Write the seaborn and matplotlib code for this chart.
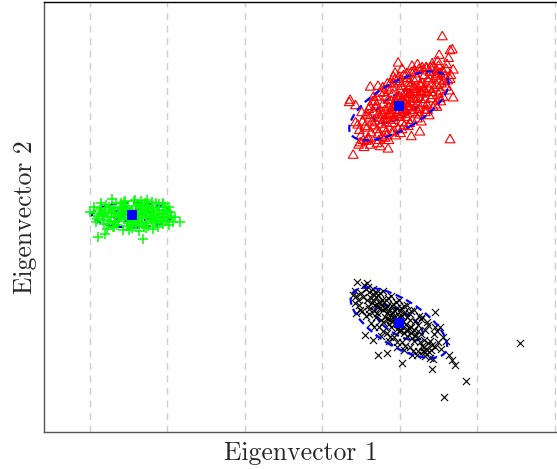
import numpy as np
import pandas as pd
import matplotlib
matplotlib.use("Agg")
import matplotlib.pyplot as plt
from matplotlib.patches import Ellipse
import seaborn as sns

# ---- projected scores of the three classes on the first two eigenvectors ----
red_x = [4.8, 5.2, 5.0, 5.5, 4.6, 5.3,
         5.8, 6.1, 6.3, 5.9, 6.4, 6.0, 6.6,
         6.8, 7.1, 7.3, 6.9, 7.4, 7.2, 7.6, 6.7, 7.0,
         7.8, 8.1, 8.3, 7.9, 8.4, 8.0, 8.6, 8.2, 8.5, 7.7,
         8.8, 9.1, 9.3, 8.9, 9.4, 9.0, 9.6, 9.2, 9.5, 8.7, 9.7, 9.1,
         9.8, 10.1, 10.3, 9.9, 10.4, 10.0, 10.6, 10.2, 10.5, 9.8, 10.7, 10.1, 10.3,
         10.8, 11.1, 11.3, 10.9, 11.4, 11.0, 11.6, 11.2, 11.5, 11.7, 10.9, 11.3,
         11.8, 12.1, 12.3, 11.9, 12.4, 12.0, 12.6, 12.2, 12.5, 12.7,
         12.8, 13.1, 13.3, 12.9, 13.4, 13.0, 13.6, 13.2, 13.5,
         13.8, 14.1, 14.3, 13.9, 14.4, 14.0, 14.6, 14.2,
         14.8, 15.1, 15.3, 14.9, 15.4, 15.0,
         15.7, 16.0, 15.8, 16.2,
         15.5, 16.8, 16.5, 15.1, 16.9, 9.8, 9.4, 11.6, 12.3, 10.3, 13.4, 14.3,
         15.2, 16.5, 16.9, 6.2, 7.2, 9.2, 8.5, 3.6, 3.5, 4.3, 15.6, 16.5, 12.6,
         11.5, 4.0, 8.5, 7.5, 4.9, 5.9, 4.3, 13.3, 14.8, 6.6,
         5.1, 4.7, 5.6, 5.4,
         6.2, 5.7, 6.5, 6.2, 6.0,
         7.0, 7.3, 6.8, 7.5, 7.1, 7.7,
         8.0, 8.3, 7.8, 8.6, 8.2, 8.4, 8.1,
         9.0, 9.3, 8.8, 9.5, 9.2, 9.4, 9.0, 9.8,
         10.0, 10.3, 9.9, 10.6, 10.2, 10.5, 10.1, 10.7,
         11.0, 11.3, 10.9, 11.6, 11.2, 11.5, 11.1, 11.8,
         12.0, 12.3, 11.9, 12.6, 12.2, 12.5, 12.8, 12.4,
         13.0, 13.3, 12.9, 13.6, 13.2, 13.5, 13.8,
         14.0, 14.3, 13.9, 14.6, 14.2, 14.8,
         15.0, 15.3, 14.9, 15.6, 15.2,
         16.1, 16.4, 16.0, 16.6, 16.3,
         9.6, 10.4, 9.4, 10.8, 8.9, 11.2, 8.4, 12.0, 7.9, 12.8, 10.0, 11.0, 9.0, 10.6]
red_y = [10.9, 12.0, 10.2, 11.4, 11.6, 9.6,
         11.2, 12.5, 10.6, 12.9, 11.9, 9.9, 13.3,
         12.1, 11.0, 13.0, 13.8, 12.5, 10.4, 11.7, 11.5, 14.2,
         12.8, 13.5, 11.9, 14.3, 12.4, 11.2, 13.9, 10.6, 14.8, 13.2,
         13.1, 14.0, 12.6, 14.7, 13.5, 11.8, 15.1, 12.2, 14.3, 12.8, 13.0, 15.6,
         13.9, 14.6, 13.2, 15.3, 14.0, 12.6, 15.7, 12.9, 13.6, 14.9, 14.4, 16.0, 11.9,
         14.3, 15.2, 13.8, 15.8, 14.6, 13.0, 16.2, 14.0, 15.5, 13.5, 12.6, 16.6,
         15.0, 15.8, 14.4, 16.4, 15.2, 13.9, 16.8, 14.9, 13.6, 15.9,
         15.6, 16.3, 14.9, 17.0, 15.8, 14.4, 17.4, 16.0, 14.2,
         16.2, 16.9, 15.4, 17.6, 16.4, 15.0, 17.9, 15.8,
         16.7, 17.4, 16.0, 18.1, 16.9, 15.6,
         17.2, 16.5, 17.9, 17.3,
         23.0, 21.3, 21.2, 20.6, 18.7, 19.6, 18.3, 19.2, 19.4, 18.8, 19.0, 19.1,
         18.3, 17.5, 15.1, 16.5, 16.6, 17.8, 16.1, 14.8, 14.5, 14.1, 15.2, 9.7, 10.7,
         10.1, 7.7, 8.5, 8.8, 9.3, 9.7, 11.9, 13.5, 13.9, 15.2,
         13.2, 9.0, 12.8, 8.7,
         14.0, 9.5, 14.6, 9.0, 13.6,
         15.2, 9.6, 14.6, 15.7, 9.2, 10.0,
         15.8, 10.2, 16.4, 9.6, 15.2, 16.9, 9.9,
         16.4, 10.8, 17.0, 10.2, 16.9, 17.5, 10.6, 11.1,
         17.2, 11.0, 17.8, 11.5, 16.6, 18.0, 10.5, 17.0,
         17.6, 11.8, 18.2, 12.2, 17.0, 18.4, 11.4, 17.4,
         18.2, 12.4, 18.6, 12.9, 17.6, 18.8, 12.0, 13.2,
         18.6, 13.2, 19.0, 13.5, 18.0, 18.9, 12.8,
         19.0, 13.9, 18.4, 14.2, 19.5, 18.6,
         19.2, 14.6, 19.8, 18.5, 15.0,
         19.4, 16.0, 18.8, 18.0, 20.2,
         14.6, 14.8, 13.9, 15.0, 13.5, 15.6, 12.9, 16.2, 12.2, 16.6, 13.5, 14.0, 12.9, 13.3]

black_x = [4.2, 4.6, 5.0, 4.8, 5.3, 4.4,
           5.8, 6.1, 6.3, 5.9, 6.4, 6.0, 6.6, 5.7,
           6.8, 7.1, 7.3, 6.9, 7.4, 7.0, 7.6, 7.2, 6.7,
           7.8, 8.1, 8.3, 7.9, 8.4, 8.0, 8.6, 8.2, 8.5, 7.7,
           8.8, 9.1, 9.3, 8.9, 9.4, 9.0, 9.6, 9.2, 9.5, 8.7, 9.7,
           9.8, 10.1, 10.3, 9.9, 10.4, 10.0, 10.6, 10.2, 10.5, 9.8,
           10.8, 11.1, 11.3, 10.9, 11.4, 11.0, 11.6, 11.2,
           11.8, 12.1, 12.3, 11.9, 12.4, 12.0, 12.6,
           12.8, 13.1, 13.3, 12.9, 13.4, 13.0, 13.6, 13.2, 13.8,
           13.9, 14.2, 14.4, 14.0, 14.6,
           15.0, 15.3, 15.6,
           25.5, 18.5, 15.7, 17.2, 16.8, 16.3, 16.0, 14.2, 10.3, 7.2, 8.4, 5.5,
           6.6, 14.6, 5.8, 4.0, 4.3, 13.3, 15.2, 11.6,
           4.5, 4.9, 4.2,
           5.4, 5.6, 5.2, 5.9,
           6.5, 6.3, 6.7, 6.1, 6.9,
           7.5, 7.3, 7.8, 7.2, 7.9, 7.6,
           8.5, 8.3, 8.7, 8.2, 8.9, 8.6,
           9.5, 9.3, 9.7, 9.2, 9.9, 9.6,
           10.5, 10.3, 10.7, 10.2, 10.9, 10.6,
           11.5, 11.3, 11.7, 11.2, 11.9,
           12.5, 12.3, 12.7, 12.2, 12.9,
           13.5, 13.3, 13.7, 13.9,
           14.5, 14.8, 14.3,
           9.6, 10.2, 9.2, 10.8, 8.6, 11.4, 8.0, 12.0, 7.4, 6.5, 9.9, 10.0]
black_y = [-9.8, -10.9, -10.1, -11.6, -10.6, -10.4,
           -11.0, -12.1, -10.7, -11.8, -11.4, -12.8, -10.2, -9.6,
           -11.6, -12.6, -11.2, -13.2, -12.0, -10.6, -13.5, -11.9, -12.4,
           -12.3, -13.1, -11.8, -13.8, -12.6, -11.2, -14.1, -12.0, -13.4, -10.9,
           -12.9, -13.7, -12.3, -14.4, -13.2, -11.8, -14.7, -12.7, -13.9, -13.5, -12.0,
           -13.6, -14.3, -13.0, -15.0, -13.8, -12.4, -15.2, -14.8, -12.7, -14.1,
           -14.1, -14.9, -13.6, -15.6, -14.4, -13.1, -15.9, -14.6,
           -14.8, -15.5, -14.2, -16.2, -15.0, -13.7, -16.4,
           -15.4, -16.1, -14.8, -16.9, -17.3, -17.6, -16.5, -17.0, -17.7,
           -16.2, -16.8, -15.3, -17.4, -17.0,
           -16.4, -17.3, -15.8,
           -16.5, -21.4, -23.5, -19.4, -18.7, -18.1, -16.3, -19.9, -19.1, -18.1, -17.8, -15.5,
           -16.1, -12.5, -8.8, -10.3, -12.6, -17.7, -14.5, -18.1,
           -8.6, -12.2, -11.3,
           -9.0, -13.0, -12.4, -9.3,
           -9.6, -13.9, -14.4, -9.9, -10.0,
           -10.1, -14.5, -15.0, -10.3, -9.8, -15.6,
           -10.7, -15.2, -15.8, -10.9, -10.4, -16.3,
           -11.2, -15.8, -16.4, -11.5, -11.0, -17.0,
           -11.8, -16.4, -16.9, -12.0, -11.6, -17.4,
           -12.4, -17.0, -17.5, -12.7, -12.2,
           -13.0, -17.6, -13.4, -18.0, -13.1,
           -13.8, -18.2, -14.2, -18.4,
           -14.5, -15.0, -18.6,
           -13.4, -14.2, -13.1, -14.8, -12.4, -15.2, -12.0, -15.6, -11.4, -11.0, -13.0, -14.9]

green_x = [-29.5, -29.0, -28.6, -28.2, -28.4, -27.9, -27.6, -27.3, -27.0, -26.8,
           -26.6, -26.3, -26.1, -25.9, -25.7, -25.5, -25.3, -25.1, -24.9, -24.7,
           -24.5, -24.3, -24.1, -23.9, -23.7, -23.5, -23.3, -23.1, -22.9, -22.7,
           -22.5, -22.3, -22.1, -21.9, -21.7, -21.5, -21.3, -21.1, -20.9, -20.7,
           -20.5, -20.2, -19.9, -19.6, -19.3,
           -26.0, -25.0, -24.0, -23.0, -25.6, -24.6, -23.6, -22.6, -26.5, -27.4,
           -21.8, -24.2, -25.2, -23.2, -28.8, -20.4,
           -28.9, -28.0, -24.1, -23.1, -19.0, -18.3, -29.9, -27.1, -20.6,
           -28.7, -28.3, -28.0, -27.7, -27.5, -27.2, -26.9, -26.7, -26.4, -26.2,
           -25.8, -25.6, -25.4, -25.2, -25.0, -24.8, -24.6, -24.4, -24.2, -24.0,
           -23.8, -23.6, -23.4, -23.2, -23.0, -22.8, -22.6, -22.4, -22.2, -22.0,
           -21.8, -21.6, -21.4, -21.2, -21.0, -20.8, -20.6, -20.3, -20.0, -19.8,
           -19.5, -29.2, -29.4, -28.5, -27.8, -26.9, -26.0, -25.4, -24.9, -24.0,
           -23.4, -22.8, -22.0, -21.2, -20.5, -19.8, -26.4, -25.7, -24.7, -23.8,
           -22.9, -21.9, -27.1, -28.1, -20.1]
green_y = [0.3, -0.5, 0.9, -1.1, 0.1, 1.3, -0.3, 0.6, -1.5, 0.2,
           1.6, -0.8, 0.9, -0.2, -1.9, 0.5, 1.2, -0.6, 0.0, -1.3,
           0.7, 1.8, -0.4, 0.3, -2.0, 1.0, -0.9, 0.4, 1.5, -0.1,
           -1.4, 0.8, -0.5, 1.1, 0.0, -1.0, 0.5, 1.4, -0.3, 0.2,
           -1.2, 0.7, -0.4, 0.4, -0.9,
           0.4, -1.0, 1.2, -1.6, 1.7, -1.7, 0.0, 1.9, -1.3, -0.7,
           -1.8, -0.9, 0.6, 1.3, -0.1, 1.0,
           -2.8, -2.5, 1.9, -3.1, -0.3, -0.9, 0.4, 2.1, 1.4,
           0.6, -0.6, 0.4, -1.2, 1.0, -0.2, 0.9, -0.9, 0.3, -0.4,
           1.1, -0.5, 0.0, -1.4, 0.9, -0.3, 0.5, -0.8, 0.2, -0.2,
           1.4, -1.1, 0.6, -0.4, 0.1, -1.0, 0.5, 1.2, -0.2, 0.3,
           0.9, -0.7, 1.6, -0.4, 0.7, -0.8, 0.1, -0.3, 0.5, 1.1,
           -0.1, -0.9, 1.0, 1.5, -1.8, -1.6, 1.5, 1.8, -1.9, -1.4,
           1.8, -1.7, 1.7, -1.5, 1.5, -1.3, -0.1, 0.3, 0.2, -0.6,
           0.7, -0.6, 0.3, 0.0, -0.7]

# class means
centroid_x = [-24.5, 9.9, 9.9]
centroid_y = [0.0, 14.1, -13.9]

# confidence ellipses: semi-axes and orientation (degrees) of the outer contour
ellipse_a = [5.2, 7.2, 7.1]
ellipse_b = [1.6, 3.0, 3.0]
ellipse_angle = [0.0, 30.0, -32.0]
outer_on_top = [False, True, True]

grid_ticks = [-30, -20, -10, 0, 10, 20, 30]

sns.set_theme(style="white")
plt.rcParams["font.family"] = ["cmr10", "DejaVu Serif"]
plt.rcParams["mathtext.fontset"] = "cm"
plt.rcParams["axes.formatter.use_mathtext"] = True

fig = plt.figure(figsize=(5.57, 4.69), dpi=100)
ax = fig.add_axes([0.079, 0.079, 0.921, 0.9165])

for cx, cy, a, b, ang, top in zip(centroid_x, centroid_y, ellipse_a, ellipse_b,
                                  ellipse_angle, outer_on_top):
    # outer (2 sigma) contour
    ax.add_patch(Ellipse((cx, cy), 2 * a, 2 * b, angle=ang,
                         fill=False, edgecolor="#0000ff", linewidth=1.6,
                         linestyle=(0, (3.2, 2.0)), zorder=4 if top else 2))
    # inner (1 sigma) contour, under the samples
    ax.add_patch(Ellipse((cx, cy), a, b, angle=ang,
                         fill=False, edgecolor="#0000ff", linewidth=1.6,
                         linestyle=(0, (3.2, 2.0)), zorder=2))

tri = [(0.0, 1.0), (-0.866, -0.5), (0.866, -0.5), (0.0, 1.0)]

black = pd.DataFrame({"x": black_x, "y": black_y})
sns.scatterplot(data=black, x="x", y="y", marker="x", color="black",
                s=26, linewidth=0.8, ax=ax, zorder=3)

red = pd.DataFrame({"x": red_x, "y": red_y})
sns.scatterplot(data=red, x="x", y="y", marker=tri, facecolor="none",
                edgecolor="#ff0000", s=66, linewidth=0.8, ax=ax, zorder=3)

green = pd.DataFrame({"x": green_x, "y": green_y})
sns.scatterplot(data=green, x="x", y="y", marker="+", color="#00ff00",
                s=62, linewidth=1.1, ax=ax, zorder=3)

cent = pd.DataFrame({"x": centroid_x, "y": centroid_y})
sns.scatterplot(data=cent, x="x", y="y", marker="s", color="#0000ff",
                s=62, linewidth=0, ax=ax, zorder=5)

ax.set_xlim(-35.9, 30.3)
ax.set_ylim(-28.0, 27.5)
ax.set_xticks(grid_ticks)
ax.set_xticklabels([])
ax.set_yticks([])
ax.tick_params(length=0)
ax.grid(axis="x", color="#cfcfcf", linestyle=(0, (5, 4)), linewidth=1.0)
ax.grid(axis="y", visible=False)
ax.set_axisbelow(True)

ax.spines["right"].set_visible(False)
ax.spines["top"].set_color("black")
ax.spines["left"].set_color("#555555")
ax.spines["bottom"].set_color("#555555")
for s in ("top", "left", "bottom"):
    ax.spines[s].set_linewidth(1.0)

ax.set_xlabel("Eigenvector 1", fontsize=18.5, labelpad=3)
ax.set_ylabel("Eigenvector 2", fontsize=18.5, labelpad=5)

fig.savefig("out.png", dpi=100)
